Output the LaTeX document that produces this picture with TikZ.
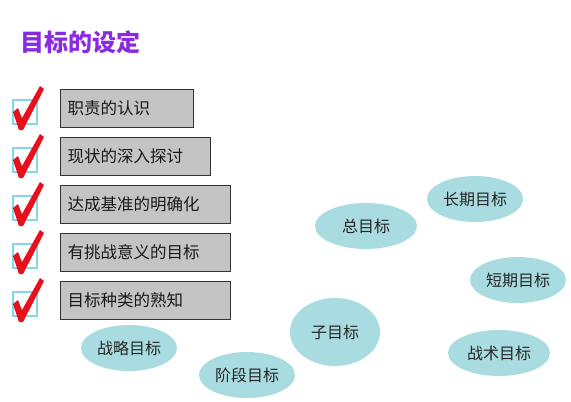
\documentclass[tikz,border=0pt]{standalone}
\usepackage{fontspec}
\setmainfont{Noto Sans CJK SC}
\usetikzlibrary{shapes.geometric}
\definecolor{titlec}{HTML}{8A2BE2}
\definecolor{boxfill}{HTML}{C4C4C4}
\definecolor{ellfill}{HTML}{A9DCE0}
\definecolor{checkc}{HTML}{E8101A}
\definecolor{cbox}{HTML}{7FDCDC}
\tikzset{
  itembox/.style={draw=black!80, line width=1.2pt, fill=boxfill, anchor=west, minimum height=38pt, inner sep=0pt, text width=#1, align=left, font=\fontsize{16.5}{16.5}\selectfont, text=black!90},
  goal/.style={ellipse, fill=ellfill, inner sep=0pt, minimum width=96pt, minimum height=46pt, font=\fontsize{16}{16}\selectfont, text=black!85},
  chkbox/.style={draw=cbox, line width=1.2pt, minimum size=24pt, inner sep=0pt},
}
\newcommand{\chk}[2]{%
  \node[chkbox] (#2) at (25,#1) {};
  \fill[checkc] ([shift={(-12,0)}]#2.center) -- ([shift={(-7,-4)}]#2.center) -- ([shift={(-3,6)}]#2.center)
     -- ([shift={(15,-26)}]#2.center) -- ([shift={(19,-23)}]#2.center) -- ([shift={(-2,18)}]#2.center)
     -- ([shift={(-6,18)}]#2.center) -- cycle;
}
\begin{document}
\begin{tikzpicture}[x=1pt,y=-1pt]
\useasboundingbox[fill=white] (0,0) rectangle (571,402);
\node[font=\fontsize{24}{24}\selectfont\bfseries, text=titlec, anchor=west, inner sep=0pt] (title) at (20,42) {目标的设定};

\node[itembox=133pt] (b1) at (60,108.5) {\hspace{7pt}职责的认识};
\node[itembox=150pt] (b2) at (60,156.5) {\hspace{7pt}现状的深入探讨};
\node[itembox=170pt] (b3) at (60,204.5) {\hspace{7pt}达成基准的明确化};
\node[itembox=170pt] (b4) at (60,252.5) {\hspace{7pt}有挑战意义的目标};
\node[itembox=170pt] (b5) at (60,300.5) {\hspace{7pt}目标种类的熟知};

\chk{112}{c1}
\chk{160}{c2}
\chk{208}{c3}
\chk{256}{c4}
\chk{304}{c5}

\node[goal] (zl) at (129,348) {战略目标};
\node[goal] (jd) at (247,375) {阶段目标};
\node[goal, minimum width=90pt, minimum height=68pt] (zi) at (335,332) {子目标};
\node[goal, minimum width=102pt] (zong) at (366,226) {总目标};
\node[goal] (cq) at (475,199) {长期目标};
\node[goal] (dq) at (518,280) {短期目标};
\node[goal, minimum width=102pt] (zs) at (499,353) {战术目标};
\end{tikzpicture}
\end{document}
